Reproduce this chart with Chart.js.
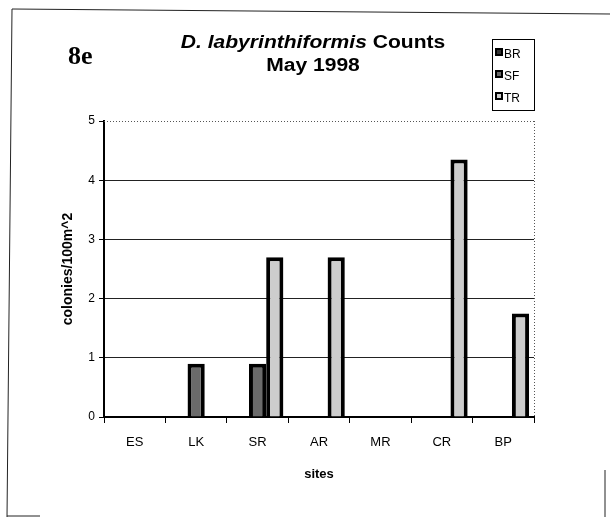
<!DOCTYPE html>
<html lang="en">
<head>
    <meta charset="UTF-8">
    <title>D. labyrinthiformis Counts May 1998</title>
    <style>
        body { margin: 0; background: #fff; }
        #chart { display: block; }
    </style>
</head>
<body>
    <canvas id="chart" width="610" height="518"></canvas>
    <script src="https://cdn.jsdelivr.net/npm/chart.js"></script>
    <script>
        const sites = ['ES', 'LK', 'SR', 'AR', 'MR', 'CR', 'BP'];
        const seriesNames = ['BR', 'SF', 'TR'];
        const brCounts = [0, 0, 0, 0, 0, 0, 0];
        const sfCounts = [0, 0.9, 0.9, 0, 0, 0, 0];
        const trCounts = [0, 0, 2.7, 2.7, 0, 4.35, 1.75];
        const yTicks = [0, 1, 2, 3, 4, 5];

        const fills = ['#333333', '#6a6a6a', '#cdcdcd'];
        const FONT = 'Arial, "Liberation Sans", sans-serif';

        // frame, titles, legend and the dotted borders
        const decorations = {
            id: 'decorations',
            afterDraw(chart) {
                const ctx = chart.ctx;
                const area = chart.chartArea;
                ctx.save();

                // outer frame (scan is slightly skewed)
                ctx.strokeStyle = '#222';
                ctx.lineWidth = 1;
                ctx.beginPath();
                ctx.moveTo(12, 9); ctx.lineTo(610, 14);
                ctx.moveTo(12, 9); ctx.lineTo(7, 517);
                ctx.moveTo(7, 516); ctx.lineTo(40, 516);
                ctx.moveTo(605, 470); ctx.lineTo(605, 517);
                ctx.stroke();

                // panel label
                ctx.fillStyle = '#000';
                ctx.font = 'bold 26px "Liberation Serif", "Times New Roman", serif';
                ctx.textBaseline = 'middle';
                ctx.textAlign = 'left';
                ctx.fillText('8e', 68, 57);

                // title, stretched horizontally like the scan
                const stretch = 1.17;
                const part1 = 'D. labyrinthiformis ';
                const part2 = 'Counts';
                ctx.save();
                ctx.translate(313, 0);
                ctx.scale(stretch, 1);
                ctx.font = 'italic bold 18px ' + FONT;
                const w1 = ctx.measureText(part1).width;
                ctx.font = 'bold 18px ' + FONT;
                const w2 = ctx.measureText(part2).width;
                const tx = -(w1 + w2) / 2;
                ctx.font = 'italic bold 18px ' + FONT;
                ctx.fillText(part1, tx, 43);
                ctx.font = 'bold 18px ' + FONT;
                ctx.fillText(part2, tx + w1, 43);
                ctx.textAlign = 'center';
                ctx.fillText('May 1998', 0, 66);
                ctx.restore();

                // legend
                ctx.strokeStyle = '#000';
                ctx.lineWidth = 1;
                ctx.strokeRect(492.5, 39.5, 42, 71);
                ctx.font = '12px ' + FONT;
                ctx.textAlign = 'left';
                const rows = [53, 75, 97];
                seriesNames.forEach((name, i) => {
                    ctx.fillStyle = '#000';
                    ctx.fillRect(495, rows[i] - 5, 8, 8);
                    ctx.fillStyle = fills[i];
                    ctx.fillRect(497, rows[i] - 3, 4, 4);
                    ctx.fillStyle = '#000';
                    ctx.fillText(name, 504, rows[i] + 2);
                });

                // dotted top and right plot borders
                ctx.strokeStyle = '#555';
                ctx.setLineDash([1, 2]);
                ctx.beginPath();
                ctx.moveTo(area.left, area.top + 0.5);
                ctx.lineTo(area.right, area.top + 0.5);
                ctx.moveTo(area.right + 0.5, area.top);
                ctx.lineTo(area.right + 0.5, area.bottom);
                ctx.stroke();
                ctx.restore();
            }
        };

        new Chart(document.getElementById('chart'), {
            type: 'bar',
            data: {
                labels: sites,
                datasets: [brCounts, sfCounts, trCounts].map((values, i) => ({
                    label: seriesNames[i],
                    data: values,
                    backgroundColor: fills[i],
                    borderColor: '#000',
                    borderWidth: 4,
                    categoryPercentage: 0.84,
                    barPercentage: 1.0
                }))
            },
            options: {
                responsive: false,
                animation: false,
                layout: { padding: { left: 60, right: 76, top: 121, bottom: 36 } },
                plugins: {
                    legend: { display: false },
                    tooltip: { enabled: false }
                },
                scales: {
                    x: {
                        afterFit(scale) { scale.height = 65; },
                        grid: {
                            drawOnChartArea: false,
                            drawTicks: true,
                            tickLength: 6,
                            tickColor: '#000'
                        },
                        border: { color: '#000', width: 2 },
                        ticks: {
                            color: '#000',
                            padding: 12,
                            font: { family: FONT, size: 13 }
                        },
                        title: {
                            display: true,
                            text: 'sites',
                            color: '#000',
                            padding: 0,
                            font: { family: FONT, size: 13, weight: 'bold' }
                        }
                    },
                    y: {
                        min: 0,
                        max: 5,
                        afterFit(scale) { scale.width = 44; },
                        afterBuildTicks(scale) {
                            scale.ticks = yTicks.map(v => ({ value: v }));
                        },
                        grid: {
                            color: ctx => (ctx.tick && ctx.tick.value > 0 && ctx.tick.value < 5) ? '#222' : 'rgba(0,0,0,0)',
                            tickColor: '#000',
                            tickLength: 5,
                            lineWidth: 1
                        },
                        border: { color: '#000', width: 2 },
                        ticks: {
                            color: '#000',
                            padding: 4,
                            font: { family: FONT, size: 12 }
                        },
                        title: {
                            display: true,
                            text: 'colonies/100m^2',
                            color: '#000',
                            padding: { top: 0, bottom: 0 },
                            font: { family: FONT, size: 14, weight: 'bold' }
                        }
                    }
                }
            },
            plugins: [decorations]
        });
    </script>
</body>
</html>
